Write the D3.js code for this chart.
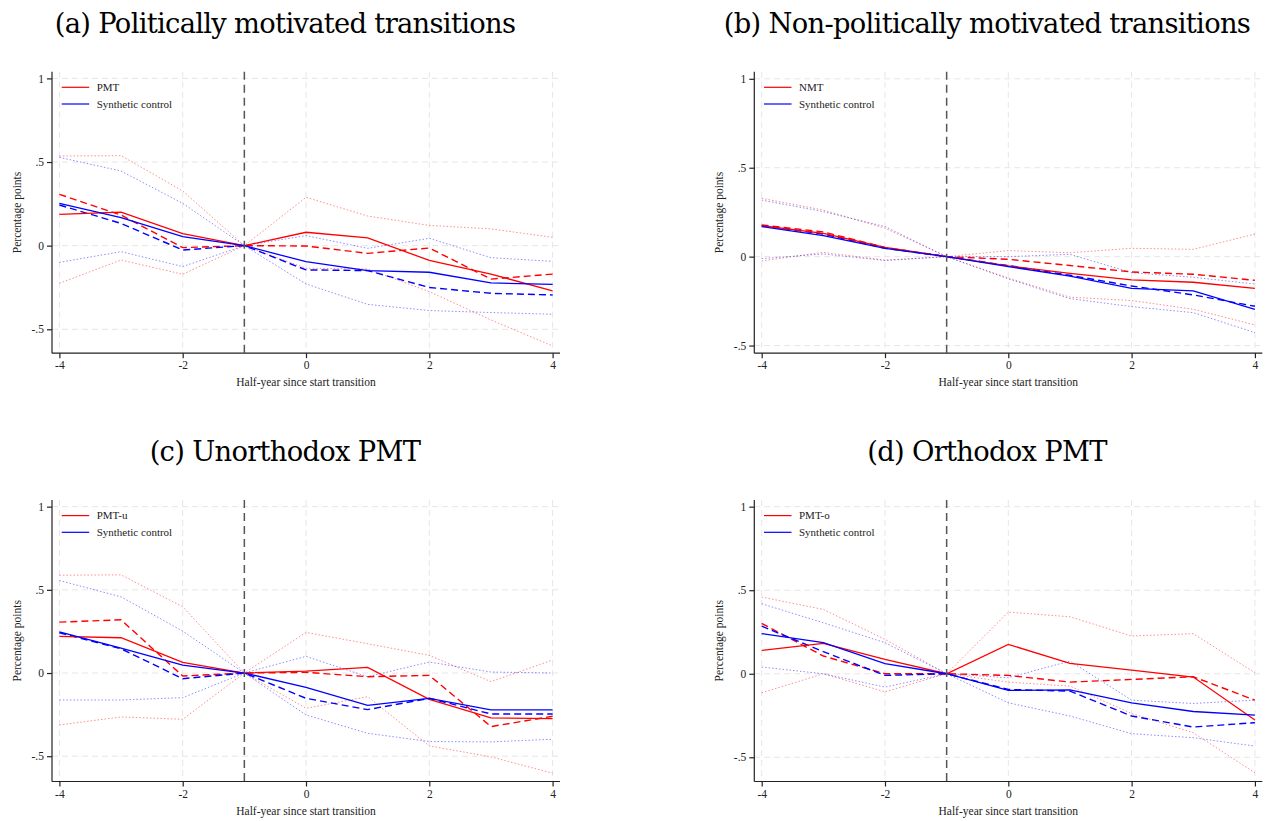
<!DOCTYPE html>
<html><head><meta charset="utf-8">
<script src="https://cdn.jsdelivr.net/npm/d3@7"></script>
<style>body{margin:0;background:#fff}svg{display:block}</style>
</head><body>
<svg id="chart" width="1270" height="821"></svg>
<script>
const periods = [-4,-3,-2,-1,0,1,2,3,4];
const xTicks = [-4,-2,0,2,4];
const xTickLabels = ["-4","-2","0","2","4"];
const yTicks = [1,0.5,0,-0.5];
const yTickLabels = ["1",".5","0","-.5"];
const xLabel = "Half-year since start transition";
const yLabel = "Percentage points";
const titles = ["(a) Politically motivated transitions","(b) Non-politically motivated transitions","(c) Unorthodox PMT","(d) Orthodox PMT"];
const treatedNames = ["PMT","NMT","PMT-u","PMT-o"];
const controlName = "Synthetic control";

// Panel (a)
const aTreated     = [0.187,0.200,0.072,0,0.080,0.046,-0.088,-0.170,-0.270];
const aSynth       = [0.253,0.167,0.054,0,-0.096,-0.149,-0.159,-0.223,-0.231];
const aTreatedDash = [0.307,0.183,-0.012,0,-0.002,-0.046,-0.014,-0.200,-0.170];
const aSynthDash   = [0.243,0.133,-0.026,0,-0.145,-0.149,-0.250,-0.285,-0.295];
const aTreatedHi   = [0.536,0.538,0.327,0,0.289,0.177,0.121,0.100,0.050];
const aTreatedLo   = [-0.225,-0.086,-0.171,0,-0.135,-0.139,-0.275,-0.444,-0.600];
const aSynthHi     = [0.528,0.446,0.253,0,0.060,-0.016,0.044,-0.072,-0.094];
const aSynthLo     = [-0.100,-0.036,-0.125,0,-0.229,-0.351,-0.388,-0.400,-0.410];
// Panel (b)
const bTreated     = [0.174,0.131,0.052,0,-0.052,-0.094,-0.131,-0.144,-0.178];
const bSynth       = [0.169,0.118,0.047,0,-0.056,-0.109,-0.178,-0.193,-0.296];
const bTreatedDash = [0.178,0.139,0.052,0,-0.015,-0.050,-0.086,-0.099,-0.133];
const bSynthDash   = [0.174,0.127,0.047,0,-0.050,-0.105,-0.165,-0.215,-0.279];
const bTreatedHi   = [0.328,0.262,0.160,0,0.034,0.022,0.047,0.041,0.127];
const bTreatedLo   = [-0.024,0.024,-0.019,0,-0.120,-0.228,-0.247,-0.296,-0.384];
const bSynthHi     = [0.318,0.253,0.169,0,0.000,0.013,-0.090,-0.116,-0.154];
const bSynthLo     = [-0.011,0.015,-0.022,0,-0.125,-0.236,-0.281,-0.315,-0.427];
// Panel (c)
const cTreated     = [0.220,0.212,0.064,0,0.012,0.034,-0.158,-0.270,-0.274];
const cSynth       = [0.248,0.150,0.048,0,-0.086,-0.194,-0.152,-0.222,-0.222];
const cTreatedDash = [0.306,0.320,-0.018,0,0.004,-0.022,-0.014,-0.322,-0.260];
const cSynthDash   = [0.242,0.146,-0.034,0,-0.152,-0.220,-0.152,-0.246,-0.246];
const cTreatedHi   = [0.588,0.590,0.398,0,0.244,0.176,0.106,-0.052,0.078];
const cTreatedLo   = [-0.312,-0.264,-0.278,0,-0.212,-0.142,-0.438,-0.504,-0.602];
const cSynthHi     = [0.556,0.458,0.252,0,0.100,-0.022,0.066,0.006,0.000];
const cSynthLo     = [-0.162,-0.162,-0.148,0,-0.252,-0.362,-0.412,-0.414,-0.398];
// Panel (d)
const dTreated     = [0.140,0.182,0.086,0,0.176,0.062,0.022,-0.020,-0.277];
const dSynth       = [0.240,0.186,0.060,0,-0.100,-0.096,-0.174,-0.226,-0.248];
const dTreatedDash = [0.301,0.106,0.000,0,-0.010,-0.050,-0.034,-0.018,-0.158];
const dSynthDash   = [0.285,0.132,-0.010,0,-0.094,-0.104,-0.253,-0.319,-0.293];
const dTreatedHi   = [0.459,0.385,0.206,0,0.369,0.341,0.226,0.240,0.006];
const dTreatedLo   = [-0.114,0.000,-0.108,0,-0.050,-0.074,-0.238,-0.353,-0.593];
const dSynthHi     = [0.419,0.305,0.186,0,-0.024,0.076,-0.158,-0.178,-0.158];
const dSynthLo     = [0.040,0.000,-0.080,0,-0.174,-0.253,-0.359,-0.383,-0.433];

const yMins = [-0.643,-0.543,-0.652,-0.645];
const xDomain = [-4.12,4.12];
const yMax = 1.04;

const panels = [
  {data:{treated:aTreated,synth:aSynth,treatedDash:aTreatedDash,synthDash:aSynthDash,treatedHi:aTreatedHi,treatedLo:aTreatedLo,synthHi:aSynthHi,synthLo:aSynthLo}, left:52, top:71.7, titleX:285, titleY:33},
  {data:{treated:bTreated,synth:bSynth,treatedDash:bTreatedDash,synthDash:bSynthDash,treatedHi:bTreatedHi,treatedLo:bTreatedLo,synthHi:bSynthHi,synthLo:bSynthLo}, left:754.3, top:71.7, titleX:987, titleY:33},
  {data:{treated:cTreated,synth:cSynth,treatedDash:cTreatedDash,synthDash:cSynthDash,treatedHi:cTreatedHi,treatedLo:cTreatedLo,synthHi:cSynthHi,synthLo:cSynthLo}, left:52, top:500, titleX:285, titleY:461},
  {data:{treated:dTreated,synth:dSynth,treatedDash:dTreatedDash,synthDash:dSynthDash,treatedHi:dTreatedHi,treatedLo:dTreatedLo,synthHi:dSynthHi,synthLo:dSynthLo}, left:754.3, top:500, titleX:987, titleY:461}
];
const plotW = 508, plotH = 281.5;
const RED = "#ff0000", BLUE = "#0000ff";
const axisFont = "'Liberation Serif', serif";
const titleFont = "'DejaVu Serif', serif";
const titleSpacing = -0.7;

const svg = d3.select("#chart");

// fit title font so panel (a) title is ~457px wide
const probe = svg.append("text").attr("font-family", titleFont).attr("font-size", 24)
  .attr("letter-spacing", titleSpacing).text(titles[0]);
const w24 = probe.node().getComputedTextLength();
probe.remove();
const titleSize = 24 * 457 / w24;

panels.forEach((p, i) => {
  const x = d3.scaleLinear().domain(xDomain).range([p.left, p.left + plotW]);
  const y = d3.scaleLinear().domain([yMins[i], yMax]).range([p.top + plotH, p.top]);
  const g = svg.append("g");

  // title
  svg.append("text").attr("x", p.titleX).attr("y", p.titleY)
    .attr("text-anchor", "middle").attr("font-family", titleFont)
    .attr("letter-spacing", titleSpacing)
    .attr("font-size", titleSize).attr("fill", "#000").text(titles[i]);

  // grid
  g.append("g").selectAll("line").data(xTicks).join("line")
    .attr("x1", d => x(d)).attr("x2", d => x(d))
    .attr("y1", p.top).attr("y2", p.top + plotH)
    .attr("stroke", "#e6e6e6").attr("stroke-width", 1).attr("stroke-dasharray", "6,4");
  g.append("g").selectAll("line").data(yTicks).join("line")
    .attr("x1", p.left).attr("x2", p.left + plotW)
    .attr("y1", d => y(d)).attr("y2", d => y(d))
    .attr("stroke", "#e6e6e6").attr("stroke-width", 1).attr("stroke-dasharray", "6,4");

  const line = d3.line().x((d, k) => x(periods[k])).y(d => y(d));
  const series = [
    {v:p.data.treatedHi, c:RED, dash:"1.5,2", w:1, o:0.45},
    {v:p.data.treatedLo, c:RED, dash:"1.5,2", w:1, o:0.45},
    {v:p.data.synthHi, c:BLUE, dash:"1.5,2", w:1, o:0.45},
    {v:p.data.synthLo, c:BLUE, dash:"1.5,2", w:1, o:0.45},
    {v:p.data.treatedDash, c:RED, dash:"7,4", w:1.4, o:1},
    {v:p.data.synthDash, c:BLUE, dash:"7,4", w:1.4, o:1},
    {v:p.data.treated, c:RED, dash:null, w:1.3, o:1},
    {v:p.data.synth, c:BLUE, dash:null, w:1.3, o:1}
  ];
  g.append("g").selectAll("path").data(series).join("path")
    .attr("d", s => line(s.v)).attr("fill", "none")
    .attr("stroke", s => s.c).attr("stroke-width", s => s.w)
    .attr("stroke-opacity", s => s.o)
    .attr("stroke-dasharray", s => s.dash);

  // reference line at -1
  g.append("line").attr("x1", x(-1)).attr("x2", x(-1))
    .attr("y1", p.top).attr("y2", p.top + plotH)
    .attr("stroke", "#555").attr("stroke-width", 1.5).attr("stroke-dasharray", "8,5");

  // axes
  const xAxis = g.append("g").attr("transform", `translate(0,${p.top + plotH})`)
    .call(d3.axisBottom(x).tickValues(xTicks).tickSize(5).tickPadding(3)
      .tickFormat((d, k) => xTickLabels[k]));
  const yAxis = g.append("g").attr("transform", `translate(${p.left},0)`)
    .call(d3.axisLeft(y).tickValues(yTicks).tickSize(5).tickPadding(3)
      .tickFormat((d, k) => yTickLabels[k]));
  [xAxis, yAxis].forEach(a => {
    a.select(".domain").attr("stroke", "#222").attr("stroke-width", 1.2);
    a.selectAll(".tick line").attr("stroke", "#222").attr("stroke-width", 1.2);
    a.selectAll(".tick text").attr("font-family", axisFont).attr("font-size", 11.5).attr("fill", "#222");
  });
  xAxis.select(".domain").attr("d", `M${p.left},0H${p.left + plotW}`);
  yAxis.select(".domain").attr("d", `M0,${p.top}V${p.top + plotH}`);

  // axis titles
  g.append("text").attr("x", p.left + plotW / 2).attr("y", p.top + plotH + 33)
    .attr("text-anchor", "middle").attr("font-family", axisFont).attr("font-size", 11.5)
    .attr("fill", "#222").text(xLabel);
  g.append("text").attr("transform", `translate(${p.left - 31},${p.top + plotH / 2}) rotate(-90)`)
    .attr("text-anchor", "middle").attr("font-family", axisFont).attr("font-size", 11.5)
    .attr("fill", "#222").text(yLabel);

  // legend
  const leg = [{name:treatedNames[i], c:RED}, {name:controlName, c:BLUE}];
  const lg = g.append("g").selectAll("g").data(leg).join("g")
    .attr("transform", (d, k) => `translate(${p.left + 9.7},${p.top + 15.6 + k * 16.7})`);
  lg.append("line").attr("x1", 0).attr("x2", 27.5).attr("y1", 0).attr("y2", 0)
    .attr("stroke", d => d.c).attr("stroke-width", 1.2);
  lg.append("text").attr("x", 35).attr("y", 3.8).attr("font-family", axisFont)
    .attr("font-size", 11).attr("fill", "#222").text(d => d.name);
});
</script>
</body></html>
